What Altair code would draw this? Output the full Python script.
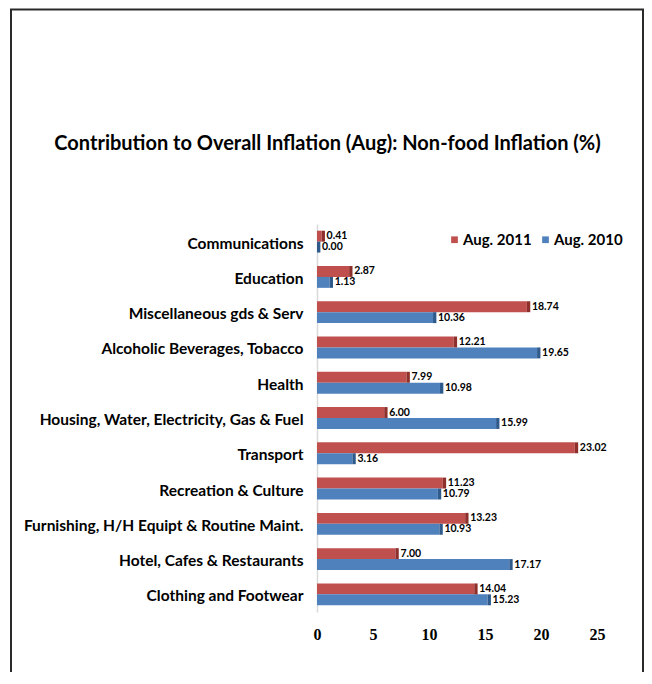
import altair as alt
import pandas as pd

categories = [
    "Communications",
    "Education",
    "Miscellaneous gds & Serv",
    "Alcoholic Beverages, Tobacco",
    "Health",
    "Housing, Water, Electricity, Gas & Fuel",
    "Transport",
    "Recreation & Culture",
    "Furnishing, H/H Equipt & Routine Maint.",
    "Hotel, Cafes & Restaurants",
    "Clothing and Footwear",
]
aug_2011 = [0.41, 2.87, 18.74, 12.21, 7.99, 6.00, 23.02, 11.23, 13.23, 7.00, 14.04]
aug_2010 = [0.00, 1.13, 10.36, 19.65, 10.98, 15.99, 3.16, 10.79, 10.93, 17.17, 15.23]
series = ["Aug. 2011", "Aug. 2010"]
colors = ["#C0504D", "#4F81BD"]
dark_colors = ["#8E2F2C", "#2F5A8C"]
x_ticks = [0, 5, 10, 15, 20, 25]
title_text = "Contribution to Overall Inflation (Aug): Non-food Inflation (%)"

rows = []
for c, a, b in zip(categories, aug_2011, aug_2010):
    rows.append({"category": c, "series": series[0], "value": a})
    rows.append({"category": c, "series": series[1], "value": b})
df = pd.DataFrame(rows)

SANS = "Lato"

y_enc = alt.Y(
    "category:N",
    sort=categories,
    scale=alt.Scale(paddingInner=0.38, paddingOuter=0.19),
    axis=alt.Axis(
        title=None,
        ticks=False,
        domain=True,
        domainColor="#d9d9d9",
        domainWidth=1.5,
        labelFont=SANS,
        labelFontWeight="bold",
        labelFontSize=15.5,
        labelColor="black",
        labelPadding=14,
        labelOffset=2,
        labelLimit=400,
    ),
)
yoff = alt.YOffset("series:N", sort=series, scale=alt.Scale(paddingInner=0, paddingOuter=0))
x_scale = alt.Scale(domain=[0, 25], nice=False, clamp=False)

bars = alt.Chart(df).mark_bar(opacity=1).encode(
    x=alt.X(
        "value:Q",
        scale=x_scale,
        axis=alt.Axis(
            title=None,
            values=x_ticks,
            grid=False,
            ticks=False,
            domain=False,
            labelFlush=False,
            labelFont="Liberation Serif",
            labelFontWeight="bold",
            labelFontSize=16,
            labelColor="black",
            labelPadding=14,
        ),
    ),
    y=y_enc,
    yOffset=yoff,
    color=alt.Color(
        "series:N",
        scale=alt.Scale(domain=series, range=colors),
        legend=alt.Legend(
            title=None,
            orient="none",
            legendX=130,
            legendY=8,
            direction="horizontal",
            symbolType="square",
            symbolSize=45,
            symbolStrokeWidth=0,
            labelFont=SANS,
            labelFontWeight="bold",
            labelFontSize=15,
            labelColor="black",
            columnPadding=6,
            labelOffset=1,
        ),
    ),
)

caps = alt.Chart(df).transform_calculate(
    cap_end="datum.value + 0.3"
).mark_bar(opacity=1).encode(
    x=alt.X("value:Q", scale=x_scale),
    x2="cap_end:Q",
    y=alt.Y("category:N", sort=categories),
    yOffset=yoff,
    color=alt.Color("series:N", scale=alt.Scale(domain=series, range=dark_colors), legend=None),
)

labels = alt.Chart(df).mark_text(
    align="left", baseline="middle", dx=5, font=SANS, fontWeight="bold", fontSize=10.5, color="black"
).encode(
    x=alt.X("value:Q", scale=x_scale),
    y=alt.Y("category:N", sort=categories),
    yOffset=yoff,
    text=alt.Text("value:Q", format=".2f"),
)

title = alt.Chart(pd.DataFrame({"t": [title_text]})).mark_text(
    align="center", baseline="middle", font=SANS, fontWeight="bold", fontSize=20, color="black"
).encode(
    x=alt.value(10.5), y=alt.value(-80), text="t:N"
)

border = alt.Chart(pd.DataFrame({"a": [0]})).mark_rect(
    fill=None, filled=False, stroke="#2a2a2a", strokeWidth=2
).encode(
    x=alt.value(-306), x2=alt.value(326), y=alt.value(-214.5), y2=alt.value(520)
)

chart = alt.layer(border, title, bars, caps, labels).resolve_scale(color="independent").properties(
    width=280,
    height=388,
    padding={"left": 309, "top": 216, "right": 47, "bottom": 60},
    autosize=alt.AutoSizeParams(type="none"),
).configure_view(stroke=None)

chart.save("out.html", embed_options={"renderer": "svg", "actions": False})
